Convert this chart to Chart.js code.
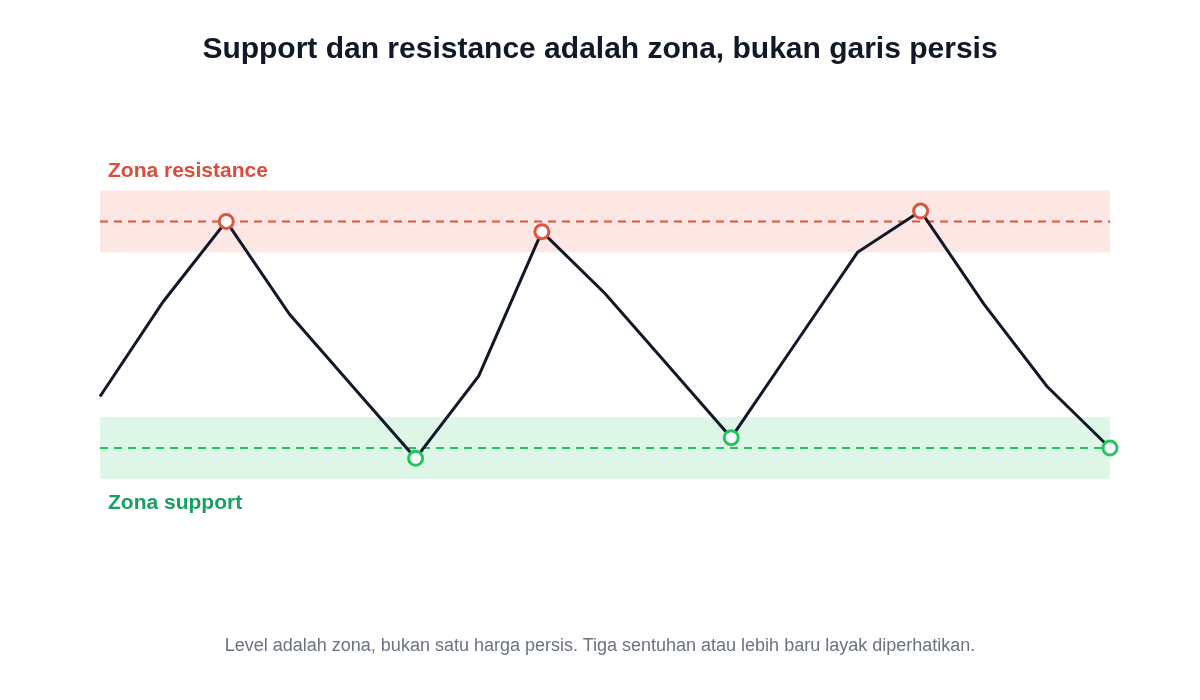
<!DOCTYPE html>
<html>
<head>
<meta charset="utf-8">
<script src="https://cdn.jsdelivr.net/npm/chart.js@4.4.1/dist/chart.umd.min.js"></script>
<style>
  html, body { margin: 0; padding: 0; background: #ffffff; }
  #wrap { position: relative; width: 1200px; height: 700px; overflow: hidden; }
  #title { position: absolute; left: 0; top: 30px; width: 1200px; text-align: center; line-height: 36px;
    font-family: "Liberation Sans", Arial, sans-serif; font-weight: bold; font-size: 30px; color: #111827; }
  #note { position: absolute; left: 0; top: 634px; width: 1200px; text-align: center; line-height: 22px;
    font-family: "Liberation Sans", Arial, sans-serif; font-size: 18px; color: #6b7280; }
  canvas { position: absolute; left: 0; top: 0; }
</style>
</head>
<body>
<div id="wrap">
  <canvas id="c" width="1200" height="700"></canvas>
  <div id="title">Support dan resistance adalah zona, bukan garis persis</div>
  <div id="note">Level adalah zona, bukan satu harga persis. Tiga sentuhan atau lebih baru layak diperhatikan.</div>
</div>
<script>
// ---- data ----
const periods = ['1','2','3','4','5','6','7','8','9','10','11','12','13','14','15','16','17'];
const price = [102.5, 107.1, 111.0, 106.5, 103.0, 99.5, 103.5, 110.5, 107.5, 104.0, 100.5, 105.0, 109.5, 111.5, 107.0, 103.0, 100.0];
const touches = ['', '', 'R', '', '', 'S', '', 'R', '', '', 'S', '', '', 'R', '', '', 'S'];
const resistanceLevel = 111;
const supportLevel = 100;
const zoneHalfWidth = 1.5;
const zoneLabels = ['Zona resistance', 'Zona support'];
const yRange = [95, 115];

const RED = '#e0533f';
const GREEN = '#22c55e';

const zonesPlugin = {
  id: 'zones',
  beforeDatasetsDraw(chart) {
    const { ctx, chartArea, scales } = chart;
    const y = scales.y;
    ctx.save();
    const rt = y.getPixelForValue(resistanceLevel + zoneHalfWidth);
    const rb = y.getPixelForValue(resistanceLevel - zoneHalfWidth);
    ctx.fillStyle = 'rgba(239, 83, 63, 0.14)';
    ctx.fillRect(chartArea.left, rt, chartArea.right - chartArea.left, rb - rt);
    const st = y.getPixelForValue(supportLevel + zoneHalfWidth);
    const sb = y.getPixelForValue(supportLevel - zoneHalfWidth);
    ctx.fillStyle = 'rgba(34, 197, 94, 0.15)';
    ctx.fillRect(chartArea.left, st, chartArea.right - chartArea.left, sb - st);
    ctx.restore();
  },
  afterDraw(chart) {
    const { ctx, chartArea, scales } = chart;
    const y = scales.y;
    ctx.save();
    ctx.font = 'bold 21px "Liberation Sans", Arial, sans-serif';
    ctx.textBaseline = 'middle';
    ctx.textAlign = 'left';
    ctx.fillStyle = '#dc4c3a';
    ctx.fillText(zoneLabels[0], chartArea.left + 8, y.getPixelForValue(resistanceLevel + zoneHalfWidth) - 19);
    ctx.fillStyle = '#16a062';
    ctx.fillText(zoneLabels[1], chartArea.left + 8, y.getPixelForValue(supportLevel - zoneHalfWidth) + 24);
    ctx.restore();
  }
};

const markerColor = touches.map(t => t === 'R' ? RED : (t === 'S' ? GREEN : 'rgba(0,0,0,0)'));
const markerRadius = touches.map(t => t ? 7 : 0);

new Chart(document.getElementById('c'), {
  type: 'line',
  data: {
    labels: periods,
    datasets: [
      {
        label: 'Harga',
        data: price,
        borderColor: '#111827',
        borderWidth: 3,
        tension: 0,
        pointRadius: markerRadius,
        pointHoverRadius: markerRadius,
        pointBackgroundColor: '#ffffff',
        pointBorderColor: markerColor,
        pointBorderWidth: 3,
        order: 0
      },
      {
        label: 'Resistance',
        data: periods.map(() => resistanceLevel),
        borderColor: RED,
        borderWidth: 2,
        borderDash: [8, 6],
        pointRadius: 0,
        order: 1
      },
      {
        label: 'Support',
        data: periods.map(() => supportLevel),
        borderColor: GREEN,
        borderWidth: 2,
        borderDash: [8, 6],
        pointRadius: 0,
        order: 2
      }
    ]
  },
  options: {
    responsive: false,
    animation: false,
    layout: { padding: { left: 100, right: 90, top: 139, bottom: 149 } },
    plugins: { legend: { display: false }, tooltip: { enabled: false }, title: { display: false } },
    scales: {
      x: { display: false, offset: false },
      y: { display: false, min: yRange[0], max: yRange[1] }
    }
  },
  plugins: [zonesPlugin]
});
</script>
</body>
</html>
